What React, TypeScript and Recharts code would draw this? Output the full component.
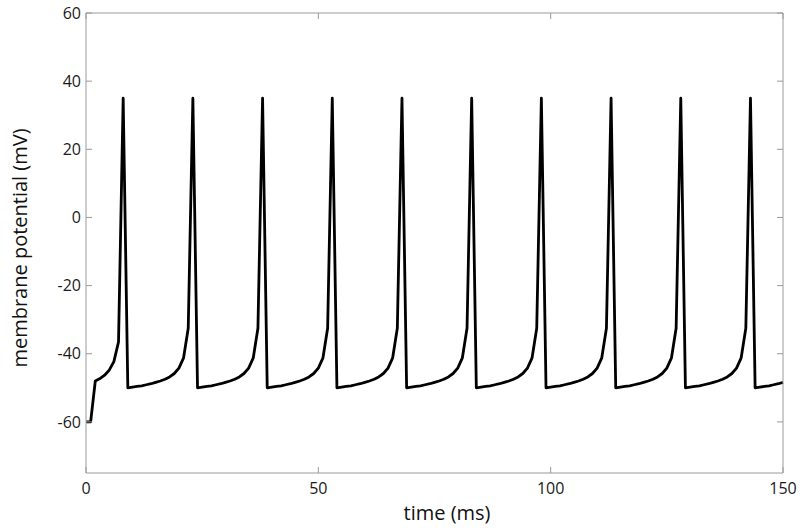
import React from 'react';
import { LineChart, Line, XAxis, YAxis } from 'recharts';

const timeMs = [
  0, 1, 2, 3, 4, 5, 6, 7, 8, 9, 10, 11, 12, 13, 14, 15, 16, 17, 18, 19,
  20, 21, 22, 23, 24, 25, 26, 27, 28, 29, 30, 31, 32, 33, 34, 35, 36, 37, 38, 39,
  40, 41, 42, 43, 44, 45, 46, 47, 48, 49, 50, 51, 52, 53, 54, 55, 56, 57, 58, 59,
  60, 61, 62, 63, 64, 65, 66, 67, 68, 69, 70, 71, 72, 73, 74, 75, 76, 77, 78, 79,
  80, 81, 82, 83, 84, 85, 86, 87, 88, 89, 90, 91, 92, 93, 94, 95, 96, 97, 98, 99,
  100, 101, 102, 103, 104, 105, 106, 107, 108, 109, 110, 111, 112, 113, 114, 115, 116, 117, 118, 119,
  120, 121, 122, 123, 124, 125, 126, 127, 128, 129, 130, 131, 132, 133, 134, 135, 136, 137, 138, 139,
  140, 141, 142, 143, 144, 145, 146, 147, 148, 149, 150,
];

const membranePotential = [
  -60, -60, -48, -47.3, -46.3, -44.8, -42.3, -36.5, 35,
  -50, -49.8, -49.6, -49.4, -49.1, -48.8, -48.4, -48.0, -47.5, -46.8, -45.8, -44.2, -41.2, -32.5, 35,
  -50, -49.8, -49.6, -49.4, -49.1, -48.8, -48.4, -48.0, -47.5, -46.8, -45.8, -44.2, -41.2, -32.5, 35,
  -50, -49.8, -49.6, -49.4, -49.1, -48.8, -48.4, -48.0, -47.5, -46.8, -45.8, -44.2, -41.2, -32.5, 35,
  -50, -49.8, -49.6, -49.4, -49.1, -48.8, -48.4, -48.0, -47.5, -46.8, -45.8, -44.2, -41.2, -32.5, 35,
  -50, -49.8, -49.6, -49.4, -49.1, -48.8, -48.4, -48.0, -47.5, -46.8, -45.8, -44.2, -41.2, -32.5, 35,
  -50, -49.8, -49.6, -49.4, -49.1, -48.8, -48.4, -48.0, -47.5, -46.8, -45.8, -44.2, -41.2, -32.5, 35,
  -50, -49.8, -49.6, -49.4, -49.1, -48.8, -48.4, -48.0, -47.5, -46.8, -45.8, -44.2, -41.2, -32.5, 35,
  -50, -49.8, -49.6, -49.4, -49.1, -48.8, -48.4, -48.0, -47.5, -46.8, -45.8, -44.2, -41.2, -32.5, 35,
  -50, -49.8, -49.6, -49.4, -49.1, -48.8, -48.4, -48.0, -47.5, -46.8, -45.8, -44.2, -41.2, -32.5, 35,
  -50, -49.8, -49.6, -49.4, -49.1, -48.8, -48.4,
];

const xTicks = [0, 50, 100, 150];
const yTicks = [-60, -40, -20, 0, 20, 40, 60];
const xLabel = 'time (ms)';
const yLabel = 'membrane potential (mV)';

const data = timeMs.map((t, i) => ({ t, v: membranePotential[i] }));

const FONT = '"Open Sans", "Noto Sans", sans-serif';
const AXIS = '#9a9a9a';
const tickStyle = { fill: '#1a1a1a', fontSize: 16, fontFamily: FONT };

const renderXLabel = () => (
  <text x={447} y={512} textAnchor="middle" dominantBaseline="central"
    fontSize={20} fontFamily={FONT} fill="#111">{xLabel}</text>
);
const renderYLabel = () => (
  <text x={19} y={248} textAnchor="middle" dominantBaseline="central"
    transform="rotate(-90, 19, 248)" fontSize={20} fontFamily={FONT} fill="#111">{yLabel}</text>
);

export default function App() {
  return (
    <div style={{ position: 'absolute', left: 0, top: 0, width: 800, height: 528, background: '#fff' }}>
      <LineChart width={800} height={528} data={data} margin={{ top: 12, right: 16, bottom: 0, left: 0 }}>
        <XAxis xAxisId="b" dataKey="t" type="number" domain={[0, 150]} ticks={xTicks}
          orientation="bottom" height={55} stroke={AXIS} tickSize={-6} tickMargin={16}
          tick={tickStyle} interval={0} label={renderXLabel} />
        <XAxis xAxisId="top" dataKey="t" type="number" domain={[0, 150]} ticks={xTicks}
          orientation="top" height={1} stroke={AXIS} tickSize={-6} tickFormatter={() => ''} interval={0} />
        <YAxis yAxisId="l" type="number" domain={[-75, 60]} ticks={yTicks} orientation="left"
          width={86} stroke={AXIS} tickSize={-6} tickMargin={11} tick={tickStyle} interval={0}
          allowDataOverflow label={renderYLabel} />
        <YAxis yAxisId="r" type="number" domain={[-75, 60]} ticks={yTicks} orientation="right"
          width={1} stroke={AXIS} tickSize={-6} tickFormatter={() => ''} interval={0} allowDataOverflow />
        <Line xAxisId="b" yAxisId="l" type="linear" dataKey="v" stroke="#000" strokeWidth={2.8}
          dot={false} isAnimationActive={false} strokeLinejoin="round" />
      </LineChart>
    </div>
  );
}
